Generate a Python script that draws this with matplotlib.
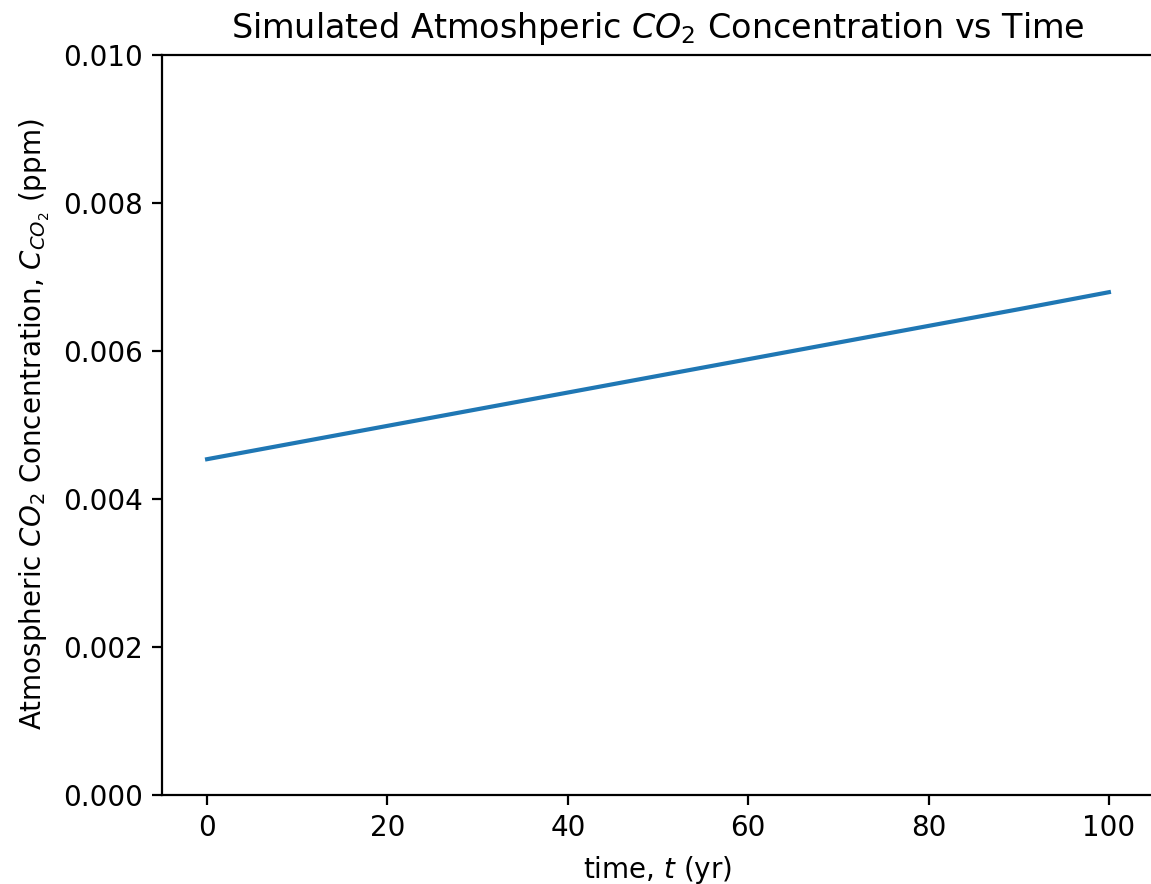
"""
Atmospheric CO2 concentration over a 100 year simulation.
"""

import matplotlib
matplotlib.use("Agg")
import matplotlib.pyplot as plt
import numpy as np

# simulated CO2 concentration (ppm) at 10 yr steps
t_yr = np.array([0, 10, 20, 30, 40, 50, 60, 70, 80, 90, 100])
c_co2 = np.array([0.004535, 0.004760, 0.004985, 0.005210, 0.005435, 0.005660,
                  0.005885, 0.006110, 0.006335, 0.006560, 0.006790])

fig = plt.figure(figsize=(1151 / 200, 884 / 200), dpi=200)
ax = fig.add_axes([162 / 1151, 89 / 884, 992 / 1151, 740.5 / 884])

ax.plot(t_yr, c_co2)

ax.set_xlim(-5, 105)
ax.set_ylim(0, 0.010)
ax.set_title("Simulated Atmoshperic $CO_2$ Concentration vs Time")
ax.set_xlabel("time, $t$ (yr)")
ax.set_ylabel("Atmospheric $CO_2$ Concentration, $C_{CO_2}$ (ppm)")

fig.savefig("out.png", dpi=200)
